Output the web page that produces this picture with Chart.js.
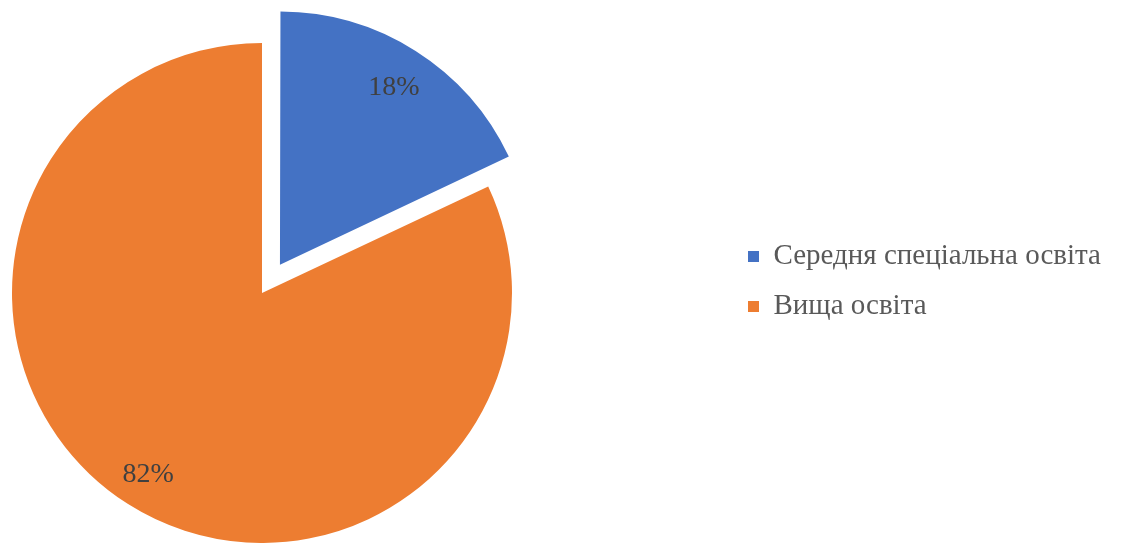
<!DOCTYPE html>
<html lang="uk">
<head>
<meta charset="utf-8">
<title>Освіта</title>
<style>
  html, body { margin: 0; padding: 0; background: #ffffff; }
  #wrap { position: relative; width: 1121px; height: 543px; }
  canvas { display: block; }
</style>
<script src="https://cdn.jsdelivr.net/npm/chart.js@4.4.1/dist/chart.umd.min.js"></script>
</head>
<body>
<div id="wrap"><canvas id="chart" width="1121" height="543"></canvas></div>
<script>
// Categories and their shares, in percent
const categories = ['Середня спеціальна освіта', 'Вища освіта'];
const shares = [18, 82];

// Slice colours
const sliceColors = ['#4472C4', '#ED7D31'];

// Layout constants
const PIE_RADIUS = 250;          // px
const EXPLODE_PX = 33.5;         // how far the first slice is pulled out
const LABEL_RADIUS = 0.85;       // share label distance, fraction of radius
const LEGEND_BOX_X = 748;        // left edge of the legend swatches
const LEGEND_ITEM_TOP = 242;     // top of the first legend row
const SERIF = '"Liberation Serif", "Times New Roman", serif';

// Puts the legend column at a fixed spot to the right of the pie
const legendPlacement = {
  id: 'legendPlacement',
  afterLayout(chart) {
    const lg = chart.legend;
    if (!lg) return;
    const p = lg.options.labels.padding;
    const w = lg.width, h = lg.height;
    lg.left = LEGEND_BOX_X - p;
    lg.right = lg.left + w;
    lg.top = LEGEND_ITEM_TOP - p;
    lg.bottom = lg.top + h;
  }
};

// Writes each slice's share inside the slice
const sliceLabels = {
  id: 'sliceLabels',
  afterDatasetsDraw(chart) {
    const { ctx } = chart;
    const meta = chart.getDatasetMeta(0);
    const values = chart.data.datasets[0].data;
    ctx.save();
    ctx.font = '28px ' + SERIF;
    ctx.fillStyle = '#404040';
    ctx.textAlign = 'center';
    ctx.textBaseline = 'middle';
    meta.data.forEach((arc, i) => {
      const { x, y, startAngle, endAngle, outerRadius } =
        arc.getProps(['x', 'y', 'startAngle', 'endAngle', 'outerRadius'], true);
      const mid = (startAngle + endAngle) / 2;
      const shift = (arc.options.offset || 0) / 4;
      const d = shift + outerRadius * LABEL_RADIUS;
      ctx.fillText(values[i] + '%', x + Math.cos(mid) * d, y + Math.sin(mid) * d + 2);
    });
    ctx.restore();
  }
};

new Chart(document.getElementById('chart'), {
  type: 'pie',
  data: {
    labels: categories,
    datasets: [{
      data: shares,
      backgroundColor: sliceColors,
      borderWidth: 0,
      radius: PIE_RADIUS,
      // Chart.js moves an arc by a quarter of its offset value
      offset: [EXPLODE_PX * 4, 0]
    }]
  },
  options: {
    responsive: false,
    animation: false,
    layout: { padding: { left: 0, top: 43, right: 597, bottom: 0 } },
    plugins: {
      legend: {
        position: 'chartArea',
        align: 'start',
        labels: {
          boxWidth: 11,
          boxHeight: 11,
          padding: 21,
          color: '#595959',
          font: { family: SERIF, size: 29 }
        }
      },
      tooltip: { enabled: false }
    }
  },
  plugins: [legendPlacement, sliceLabels]
});
</script>
</body>
</html>
